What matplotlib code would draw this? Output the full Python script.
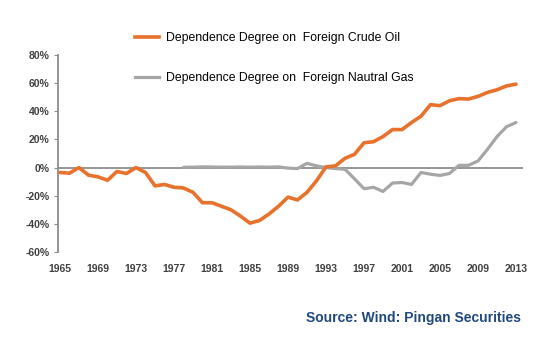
import matplotlib
matplotlib.use("Agg")
import matplotlib.pyplot as plt
from matplotlib.lines import Line2D

plt.rcParams['font.family'] = ['Liberation Sans', 'DejaVu Sans']

years = list(range(1965, 2014))
oil = [-3.5, -4, 0, -5.4, -6.6, -9, -2.8, -4.2, 0, -3.5,
       -13, -12, -14, -14.5, -17.6, -25, -25, -27.5, -30, -34.5,
       -39.5, -37.6, -33, -27.5, -21, -23, -17.6, -9.4, 0.5, 1.2,
       6.6, 9.4, 17.6, 18.4, 22, 27, 27, 32, 36.5, 44.7,
       44, 47.5, 49, 48.7, 50.6, 53.4, 55.3, 58, 59.3]
gas_years = list(range(1978, 2014))
gas = [0.2, 0.3, 0.5, 0.4, 0.3, 0.3, 0.4, 0.3, 0.4, 0.3,
       0.5, -0.4, -0.7, 3, 1.2, 0, -0.7, -1.2, -8, -15,
       -14, -17, -11, -10.6, -12, -3.5, -4.7, -5.6, -4.2, 1.6,
       1.6, 4.7, 13, 22, 29, 32]
yticks = [80, 60, 40, 20, 0, -20, -40, -60]
xticks = list(range(1965, 2014, 4))
oil_label = "Dependence Degree on  Foreign Crude Oil"
gas_label = "Dependence Degree on  Foreign Nautral Gas"
source = "Source: Wind: Pingan Securities"

fig = plt.figure(figsize=(5.58, 3.39), dpi=100)
ax = fig.add_axes([58/558, 1-252/339, (523-58)/558, (252-55)/339])

oil_c = '#E8712B'
gas_c = '#A6A6A6'
ax.axhline(0, color='#8C8C8C', lw=1.3, zorder=1)
ax.plot(gas_years, gas, color=gas_c, lw=2.3, zorder=2, solid_capstyle='round')
ax.plot(years, oil, color=oil_c, lw=2.6, zorder=3, solid_capstyle='round')

ax.set_xlim(1965 - 2/9.5, 1965 + (523-60)/9.5)
ax.set_ylim(-60, 80)
ax.set_yticks(yticks)
ax.set_yticklabels([f"{v}%" for v in yticks])
ax.set_xticks(xticks)
ax.set_xticklabels([str(x) for x in xticks])
for s in ['top', 'right', 'bottom']:
    ax.spines[s].set_visible(False)
ax.spines['left'].set_color('#8C8C8C')
ax.spines['left'].set_linewidth(1.3)
ax.tick_params(axis='y', length=3, color='#8C8C8C', labelsize=7.5,
               labelcolor='#404040', pad=3)
ax.tick_params(axis='x', length=0, labelsize=7.5, labelcolor='#404040', pad=9)
for lab in ax.get_xticklabels() + ax.get_yticklabels():
    lab.set_fontweight('bold')

h1 = [Line2D([0], [0], color=oil_c, lw=2.6)]
h2 = [Line2D([0], [0], color=gas_c, lw=2.3)]
l1 = fig.legend(h1, [oil_label], loc='center left', bbox_to_anchor=(135/558, 1-38/339),
                frameon=False, fontsize=8.8, handlelength=2.0, handletextpad=0.5,
                borderaxespad=0, borderpad=0)
l2 = fig.legend(h2, [gas_label], loc='center left', bbox_to_anchor=(135/558, 1-78/339),
                frameon=False, fontsize=8.8, handlelength=2.0, handletextpad=0.5,
                borderaxespad=0, borderpad=0)

fig.text(521/558, 1-318/339, source, ha='right', va='center', fontsize=10,
         fontweight='bold', color='#1F497D')

fig.savefig('out.png', dpi=100)
